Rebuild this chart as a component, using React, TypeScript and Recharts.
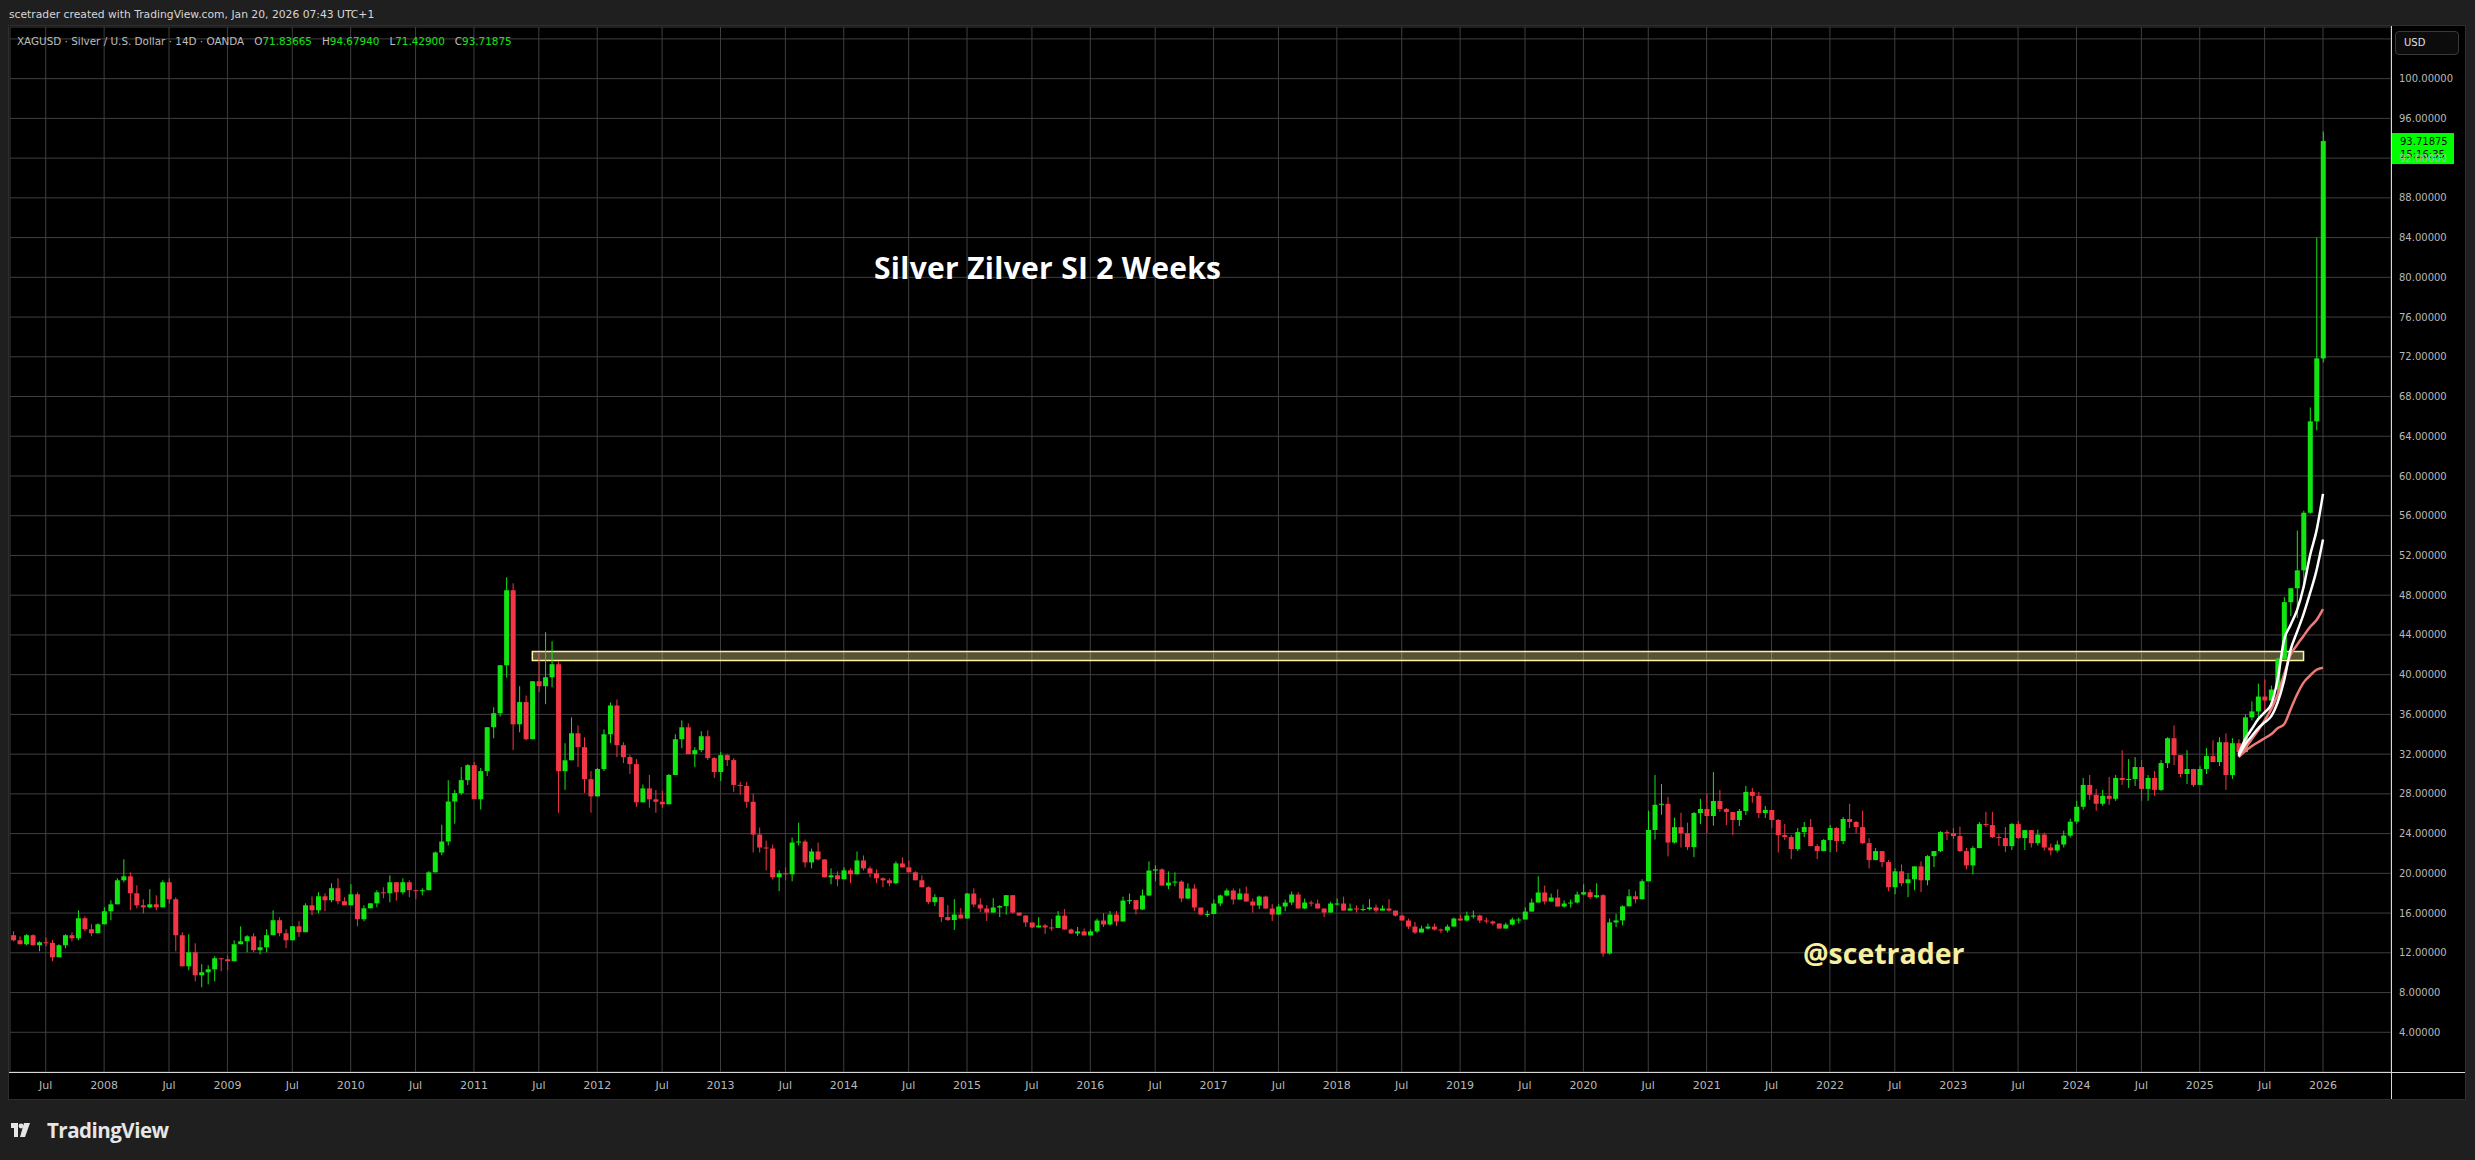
import { ComposedChart, Bar, Line, XAxis, YAxis, CartesianGrid, ReferenceArea, ReferenceLine } from "recharts";

// 14D candles, XAGUSD (OANDA)
const firstOpen = 13.77;

const closes = [
  13.26, 12.86, 13.77, 12.76, 13.06, 13.0, 11.55, 12.76, 13.77, 13.46,
  15.48, 14.37, 13.97, 14.87, 16.18, 16.88, 19.3, 19.7, 17.99, 16.78,
  16.58, 16.88, 16.58, 19.1, 17.39, 13.77, 10.64, 12.05, 9.74, 10.04,
  10.34, 11.45, 11.35, 11.15, 12.86, 13.16, 13.66, 12.26, 12.56, 13.77,
  15.28, 13.97, 13.26, 14.67, 14.07, 16.78, 16.28, 17.69, 17.29, 18.5,
  17.19, 16.78, 17.89, 15.38, 16.48, 16.98, 18.09, 17.99, 19.1, 18.09,
  19.1, 18.3, 18.2, 18.3, 20.1, 22.1, 23.2, 27.23, 28.07, 29.38,
  30.89, 27.46, 30.29, 34.71, 36.12, 40.95, 48.5, 35.0, 37.24, 33.5,
  39.34, 38.84, 39.74, 41.05, 30.28, 31.38, 34.1, 32.7, 29.48, 27.75,
  30.5, 34.0, 36.9, 32.9, 31.7, 30.99, 27.15, 28.55, 27.45, 27.2,
  26.95, 29.9, 33.5, 34.7, 32.0, 32.4, 33.8, 31.6, 30.2, 31.9,
  31.4, 28.9, 28.8, 27.2, 23.9, 22.6, 22.5, 19.6, 20.0, 19.9,
  23.1, 23.2, 21.1, 22.2, 21.4, 19.6, 19.8, 19.4, 20.3, 19.9,
  21.3, 20.5, 20.0, 19.5, 19.3, 19.0, 21.0, 20.6, 20.1, 19.3,
  18.6, 17.1, 17.6, 15.6, 15.3, 15.85, 15.45, 17.97, 16.86, 16.46,
  16.05, 16.56, 16.7, 17.8, 16.05, 15.75, 15.05, 14.55, 14.75, 14.55,
  14.5, 15.75, 14.35, 13.95, 14.15, 13.75, 14.15, 15.25, 14.85, 15.85,
  15.15, 17.26, 17.3, 16.36, 17.77, 20.28, 20.4, 18.77, 19.07, 19.17,
  17.46, 18.47, 16.56, 15.85, 15.9, 16.96, 17.77, 18.27, 17.36, 17.97,
  17.16, 16.76, 17.66, 16.46, 15.85, 16.66, 17.06, 17.87, 16.46, 17.06,
  16.96, 16.46, 16.05, 16.96, 16.96, 16.25, 16.46, 16.36, 16.4, 16.56,
  16.25, 16.46, 16.25, 15.75, 15.25, 14.64, 14.04, 14.44, 14.64, 14.34,
  14.24, 14.64, 15.45, 15.25, 15.75, 15.75, 15.25, 15.15, 14.95, 14.44,
  14.84, 15.35, 15.35, 16.15, 17.06, 18.07, 17.16, 17.56, 16.66, 16.96,
  17.06, 17.87, 18.1, 17.6, 17.8, 11.93, 15.06, 15.26, 16.68, 17.69,
  17.39, 19.2, 24.36, 26.9, 27.0, 23.1, 24.65, 24.05, 22.64, 26.07,
  26.48, 25.77, 27.28, 26.48, 26.17, 25.37, 26.28, 28.2, 27.8, 26.07,
  26.38, 25.37, 23.85, 23.65, 22.44, 24.15, 24.66, 22.74, 22.24, 23.35,
  24.56, 23.25, 25.47, 25.17, 24.66, 23.04, 21.33, 22.24, 21.13, 18.6,
  20.2, 19.0, 19.4, 20.7, 19.3, 21.73, 22.24, 24.15, 24.05, 23.75,
  22.24, 20.8, 22.54, 24.96, 24.86, 23.65, 23.55, 22.74, 24.96, 23.55,
  24.35, 23.04, 23.9, 22.6, 22.3, 22.9, 23.8, 25.2, 26.7, 28.9,
  27.9, 27.0, 27.8, 27.5, 29.6, 29.4, 29.5, 30.7, 28.5, 29.6,
  28.4, 31.1, 33.6, 31.9, 30.0, 30.5, 28.9, 30.5, 31.8, 31.2,
  33.2, 29.9, 33.1, 32.2, 35.7, 36.3, 37.8, 37.4, 38.5, 41.6,
  47.3, 48.7, 50.5, 56.3, 65.5, 71.84, 93.72,
];

const highs = [
  14.17, 13.66, 13.87, 13.87, 13.16, 13.53, 13.3, 12.86, 13.87, 14.07,
  16.28, 15.68, 14.87, 14.97, 16.58, 17.29, 19.5, 21.42, 20.11, 18.8,
  17.39, 18.4, 17.79, 19.3, 19.5, 17.59, 14.07, 13.87, 12.96, 10.85,
  10.75, 11.65, 11.45, 11.75, 13.26, 14.67, 13.77, 13.97, 13.26, 14.37,
  16.28, 15.58, 14.37, 14.67, 15.18, 16.98, 17.69, 18.09, 17.99, 19.0,
  19.5, 17.59, 18.9, 18.09, 16.78, 16.98, 18.3, 18.6, 19.8, 19.1,
  19.5, 19.3, 18.3, 18.5, 20.21, 22.2, 24.9, 29.37, 28.4, 30.7,
  30.99, 31.2, 30.6, 34.71, 36.72, 40.95, 49.8, 49.2, 38.84, 37.9,
  39.34, 42.26, 44.28, 43.37, 41.35, 33.1, 35.7, 34.9, 33.7, 30.3,
  30.6, 34.5, 37.2, 37.5, 33.2, 31.9, 31.5, 28.95, 29.9, 28.4,
  28.3, 30.0, 34.0, 35.4, 35.1, 32.7, 34.3, 34.4, 31.7, 32.2,
  32.0, 31.6, 29.2, 29.2, 28.0, 24.6, 23.3, 22.9, 20.3, 20.6,
  23.6, 25.1, 23.4, 22.5, 23.1, 21.4, 20.5, 20.2, 20.6, 20.5,
  22.2, 21.8, 20.7, 20.4, 19.6, 19.5, 21.2, 21.6, 21.3, 20.2,
  19.8, 18.7, 17.9, 17.6, 16.8, 17.4, 16.5, 18.0, 18.5, 17.5,
  16.8, 17.5, 16.8, 17.8, 17.8, 16.05, 15.8, 15.05, 15.6, 14.9,
  15.4, 16.2, 16.4, 14.45, 14.6, 14.45, 14.35, 15.45, 16.0, 16.2,
  16.2, 17.66, 17.97, 17.3, 18.37, 21.2, 20.8, 20.5, 20.2, 20.1,
  19.3, 19.0, 18.9, 16.5, 16.25, 17.36, 17.87, 18.47, 18.47, 18.47,
  18.67, 17.46, 17.76, 17.76, 16.9, 16.9, 17.36, 18.17, 18.1, 17.46,
  17.26, 17.36, 16.46, 17.16, 17.46, 17.66, 16.96, 16.76, 16.86, 17.4,
  16.86, 16.76, 17.4, 16.25, 15.85, 15.45, 15.1, 14.74, 14.94, 14.94,
  14.44, 14.84, 15.55, 15.85, 16.15, 16.25, 15.85, 15.55, 15.25, 14.95,
  15.04, 15.55, 15.55, 16.56, 17.46, 19.7, 18.77, 17.96, 18.4, 17.26,
  17.36, 18.17, 18.9, 18.4, 19.0, 17.9, 15.46, 15.9, 16.78, 18.4,
  18.19, 19.4, 26.3, 29.9, 29.0, 27.7, 25.6, 26.1, 25.1, 26.17,
  27.5, 28.0, 30.2, 28.4, 26.58, 26.17, 26.48, 28.8, 28.6, 28.2,
  26.78, 26.38, 25.47, 24.96, 23.85, 24.56, 25.17, 25.47, 22.94, 23.45,
  24.86, 24.66, 25.67, 27.0, 25.27, 26.3, 23.54, 22.54, 22.24, 21.33,
  20.5, 20.9, 20.0, 20.7, 21.2, 21.83, 22.24, 24.25, 24.35, 24.56,
  24.7, 22.54, 22.74, 25.17, 26.2, 26.2, 23.95, 24.66, 25.07, 25.27,
  24.35, 24.35, 24.4, 24.1, 23.0, 23.3, 24.3, 25.5, 27.3, 29.6,
  29.9, 28.5, 28.4, 29.7, 29.9, 32.4, 31.5, 31.7, 31.4, 29.9,
  30.3, 31.4, 33.7, 34.9, 31.9, 32.4, 30.5, 30.8, 32.6, 33.4,
  33.7, 34.1, 33.6, 33.5, 36.0, 37.3, 39.1, 39.5, 38.9, 41.7,
  47.8, 48.7, 54.5, 56.5, 66.9, 84.0, 94.68,
];

const lows = [
  13.16, 12.86, 12.76, 12.76, 12.15, 12.66, 11.15, 11.55, 12.46, 13.16,
  13.26, 14.17, 13.66, 13.97, 14.87, 15.28, 16.88, 19.1, 16.28, 16.48,
  15.98, 16.48, 16.28, 16.58, 16.95, 12.15, 10.64, 10.24, 9.13, 8.53,
  8.83, 9.13, 10.14, 10.24, 11.15, 12.86, 12.05, 12.05, 11.85, 12.05,
  13.77, 13.66, 12.46, 13.26, 13.6, 14.07, 15.78, 15.98, 16.18, 17.09,
  16.88, 16.78, 16.78, 14.67, 15.18, 16.48, 16.58, 17.49, 17.09, 17.26,
  17.89, 17.59, 17.39, 17.79, 18.3, 20.1, 21.82, 22.8, 25.0, 27.9,
  28.9, 27.46, 26.42, 29.8, 33.6, 35.8, 39.7, 32.4, 34.2, 33.4,
  33.5, 38.24, 37.03, 38.74, 26.1, 28.4, 31.38, 30.7, 28.1, 26.1,
  27.75, 30.3, 33.1, 31.7, 31.1, 30.0, 26.7, 27.15, 26.6, 26.1,
  26.6, 26.95, 29.9, 32.6, 32.0, 30.7, 32.2, 31.4, 29.6, 29.3,
  30.8, 28.2, 27.9, 26.6, 22.1, 22.1, 20.3, 19.4, 18.2, 19.3,
  19.2, 22.8, 20.6, 20.5, 21.3, 19.6, 18.9, 18.7, 19.4, 19.0,
  19.9, 20.3, 19.6, 19.0, 18.6, 18.7, 18.9, 20.6, 20.1, 19.3,
  18.6, 16.9, 16.7, 15.1, 15.2, 14.3, 15.45, 15.45, 16.6, 16.1,
  15.2, 16.05, 15.6, 15.85, 15.95, 15.75, 14.6, 14.5, 14.55, 13.9,
  14.2, 14.5, 14.35, 13.9, 13.7, 13.75, 13.75, 14.0, 14.6, 14.75,
  14.7, 15.15, 16.9, 15.85, 16.3, 17.7, 19.2, 18.77, 18.4, 18.7,
  17.1, 17.4, 16.2, 15.85, 15.6, 15.9, 16.7, 17.7, 16.86, 17.36,
  17.16, 16.05, 16.4, 16.4, 15.2, 15.85, 16.2, 16.8, 16.46, 16.4,
  16.66, 16.46, 15.6, 16.05, 16.76, 16.25, 16.25, 16.05, 16.2, 16.26,
  16.05, 16.25, 16.15, 15.65, 15.25, 14.4, 13.9, 14.04, 14.34, 14.24,
  14.0, 14.04, 14.64, 15.25, 15.15, 15.45, 15.0, 14.95, 14.75, 14.44,
  14.44, 14.74, 14.95, 15.35, 16.15, 17.06, 16.86, 17.16, 16.66, 16.56,
  16.56, 16.96, 17.8, 17.4, 17.5, 11.6, 11.83, 14.6, 14.76, 16.68,
  16.98, 17.39, 19.2, 23.4, 25.9, 21.7, 23.0, 22.6, 22.34, 21.63,
  24.96, 24.05, 24.8, 26.2, 24.86, 23.85, 24.76, 25.87, 27.1, 25.57,
  25.57, 24.56, 22.1, 23.35, 21.43, 22.24, 23.65, 22.74, 21.43, 22.24,
  22.14, 22.14, 22.94, 24.56, 24.05, 22.94, 20.5, 21.33, 20.63, 18.2,
  17.9, 18.7, 17.6, 18.3, 18.1, 18.8, 20.63, 22.14, 23.35, 23.45,
  22.14, 20.4, 19.9, 22.54, 24.66, 23.55, 22.74, 22.14, 22.34, 23.45,
  22.34, 22.6, 22.8, 22.3, 21.8, 22.1, 22.6, 23.6, 25.0, 26.4,
  27.4, 26.3, 26.8, 26.9, 27.3, 28.9, 28.6, 28.8, 27.3, 27.3,
  27.8, 28.3, 30.6, 30.9, 29.7, 29.0, 28.7, 28.9, 30.0, 31.2,
  30.8, 28.4, 29.5, 31.8, 32.2, 35.4, 35.4, 36.1, 37.2, 38.2,
  41.6, 45.9, 45.7, 48.7, 56.2, 64.6, 71.43,
];

// moving averages drawn on the last bars (from bar 343)
const maStart = 343;
const whiteFast = [32.0, 33.5, 34.5, 35.5, 36.2, 37.0, 39.5, 43.5, 45.0, 46.5, 48.8, 52.0, 54.5, 58.2];
const whiteSlow = [31.8, 33.0, 33.8, 34.6, 35.2, 35.8, 37.2, 39.4, 42.5, 44.3, 46.1, 48.2, 50.5, 53.6];
const redFast = [31.8, 32.6, 33.5, 34.4, 35.4, 36.5, 38.0, 40.0, 42.0, 43.0, 43.9, 44.8, 45.5, 46.6];
const redSlow = [31.7, 32.3, 32.8, 33.2, 33.6, 34.0, 34.6, 35.0, 36.5, 38.0, 39.2, 39.9, 40.5, 40.7];

// resistance zone
const zoneFrom = 80;
const zoneTo = 353;
const zoneLow = 41.43;
const zoneHigh = 42.34;

const timeTicks = [5, 14, 24, 33, 43, 52, 62, 71, 81, 90, 100, 109, 119, 128, 138, 147, 157, 166, 176, 185, 195, 204, 214, 223, 233, 242, 252, 261, 271, 280, 290, 299, 309, 318, 328, 337, 347, 356];
const timeLabels = ["Jul", "2008", "Jul", "2009", "Jul", "2010", "Jul", "2011", "Jul", "2012", "Jul", "2013", "Jul", "2014", "Jul", "2015", "Jul", "2016", "Jul", "2017", "Jul", "2018", "Jul", "2019", "Jul", "2020", "Jul", "2021", "Jul", "2022", "Jul", "2023", "Jul", "2024", "Jul", "2025", "Jul", "2026"];
const priceTicks = [4, 8, 12, 16, 20, 24, 28, 32, 36, 40, 44, 48, 52, 56, 60, 64, 68, 72, 76, 80, 84, 88, 92, 96, 100, 104];

const lastBar = { o: "71.83665", h: "94.67940", l: "71.42900", c: "93.71875", close: 93.71875, timer: "15:16:35" };

const GREEN = "#12e612";
const RED = "#f23645";
const BG = "#1f1f1f";
const GRID = "#3f3f3f";
const AXIS_TEXT = "#b8b8b8";
const FONT = "'DejaVu Sans', sans-serif";

const data = closes.map((c, i) => {
  const k = i - maStart;
  return {
    i,
    o: i === 0 ? firstOpen : closes[i - 1],
    c,
    h: highs[i],
    l: lows[i],
    range: [lows[i], highs[i]],
    w1: k >= 0 ? whiteFast[k] : null,
    w2: k >= 0 ? whiteSlow[k] : null,
    r1: k >= 0 ? redFast[k] : null,
    r2: k >= 0 ? redSlow[k] : null,
  };
});

function Candle(props: any) {
  const { x, y, width, height, payload } = props;
  if (!payload || x == null) return null;
  const { o, c, h, l } = payload;
  const color = c >= o ? GREEN : RED;
  const cx = x + width / 2;
  const k = h > l ? height / (h - l) : 0;
  const top = y + (h - Math.max(o, c)) * k;
  const bot = y + (h - Math.min(o, c)) * k;
  const bh = Math.max(1, bot - top);
  return (
    <g>
      <rect x={cx - 0.5} y={y} width={1} height={Math.max(1, height)} fill={color} />
      <rect x={cx - 2.5} y={top} width={5} height={bh} fill={color} />
    </g>
  );
}

function PriceTag(props: any) {
  const vb = props.viewBox;
  if (!vb) return null;
  const x = vb.x + vb.width + 1;
  const y = vb.y;
  return (
    <g>
      <rect x={x} y={y - 8} width={62} height={31} fill="#00ff00" />
      <text x={x + 8} y={y + 4} fontSize={10} fontFamily={FONT} fill="#0b0b0b">{lastBar.c}</text>
      <text x={x + 8} y={y + 17} fontSize={10} fontFamily={FONT} fill="#0b0b0b">{lastBar.timer}</text>
    </g>
  );
}

function TvLogo() {
  return (
    <svg width={20} height={16} viewBox="0 0 20 16" style={{ position: "absolute", left: 11, top: 1123 }}>
      <rect x={0} y={0} width={7} height={5} fill="#e6e6e6" />
      <rect x={3} y={0} width={4} height={14} fill="#e6e6e6" />
      <circle cx={10} cy={3} r={2.4} fill="#e6e6e6" />
      <polygon points="13,0 19,0 14,14 9,14" fill="#e6e6e6" />
    </svg>
  );
}

export default function App() {
  const label = (v: number) => {
    const idx = timeTicks.indexOf(v);
    return idx >= 0 ? timeLabels[idx] : "";
  };
  return (
    <div style={{ position: "fixed", left: 0, top: 0, width: 2475, height: 1160, background: BG, overflow: "hidden", fontFamily: FONT }}>
      <div style={{ position: "absolute", left: 9, top: 8, fontSize: 10.75, color: "#d6d6d6", whiteSpace: "nowrap" }}>
        scetrader created with TradingView.com, Jan 20, 2026 07:43 UTC+1
      </div>
      <div style={{ position: "absolute", left: 8, top: 25, width: 2458, height: 1075, background: "#000", border: "1px solid #2e2e2e", boxSizing: "border-box" }} />
      <ComposedChart
        width={2475}
        height={1160}
        data={data}
        margin={{ top: 27, right: 10, bottom: 61, left: 10 }}
        style={{ position: "absolute", left: 0, top: 0 }}
      >
        <CartesianGrid stroke={GRID} strokeWidth={1} />
        <XAxis
          dataKey="i"
          type="number"
          domain={[-0.51, 366.48]}
          ticks={timeTicks}
          tickFormatter={label}
          interval={0}
          height={27}
          axisLine={false}
          tickLine={false}
          tickSize={0}
          tickMargin={9}
          tick={{ fontSize: 11, fill: AXIS_TEXT, fontFamily: FONT }}
          allowDataOverflow
        />
        <YAxis
          orientation="right"
          type="number"
          domain={[0, 105.2]}
          ticks={priceTicks}
          tickFormatter={(v: number) => (v === 104 ? "" : v.toFixed(5))}
          interval={0}
          width={74}
          axisLine={false}
          tickLine={false}
          tickSize={0}
          tickMargin={8}
          tick={{ fontSize: 10, fill: AXIS_TEXT, fontFamily: FONT, textAnchor: "start" }}
          allowDataOverflow
        />
        <Bar dataKey="range" barSize={5} shape={<Candle />} isAnimationActive={false} />
        <Line dataKey="r2" type="monotone" stroke="#f07a78" strokeWidth={2.5} dot={false} isAnimationActive={false} />
        <Line dataKey="r1" type="monotone" stroke="#f07a78" strokeWidth={2.5} dot={false} isAnimationActive={false} />
        <Line dataKey="w2" type="monotone" stroke="#ffffff" strokeWidth={2.5} dot={false} isAnimationActive={false} />
        <Line dataKey="w1" type="monotone" stroke="#ffffff" strokeWidth={2.5} dot={false} isAnimationActive={false} />
        <ReferenceArea
          x1={zoneFrom}
          x2={zoneTo}
          y1={zoneLow}
          y2={zoneHigh}
          fill="#fff59d"
          fillOpacity={0.34}
          stroke="#fff3a6"
          strokeWidth={1.5}
        />
        <ReferenceLine y={lastBar.close} stroke="none" label={(p: any) => <PriceTag {...p} />} />
      </ComposedChart>
      {/* axis separators */}
      <div style={{ position: "absolute", left: 2391, top: 26, width: 1, height: 1073, background: "#d8d8d8" }} />
      <div style={{ position: "absolute", left: 9, top: 1072, width: 2456, height: 1, background: "#d8d8d8" }} />
      <div style={{ position: "absolute", left: 2395, top: 31, width: 64, height: 24, boxSizing: "border-box", border: "1px solid #3a3a3a", borderRadius: 4, background: "#0c0c0c", color: "#e0e0e0", fontSize: 10, lineHeight: "22px", paddingLeft: 8 }}>
        USD
      </div>
      <div style={{ position: "absolute", left: 17, top: 35, fontSize: 10.4, color: "#bdbdbd", whiteSpace: "nowrap" }}>
        XAGUSD · Silver / U.S. Dollar · 14D · OANDA
        <span style={{ marginLeft: 10 }}>O</span><span style={{ color: GREEN }}>{lastBar.o}</span>
        <span style={{ marginLeft: 10 }}>H</span><span style={{ color: GREEN }}>{lastBar.h}</span>
        <span style={{ marginLeft: 10 }}>L</span><span style={{ color: GREEN }}>{lastBar.l}</span>
        <span style={{ marginLeft: 10 }}>C</span><span style={{ color: GREEN }}>{lastBar.c}</span>
      </div>
      <div style={{ position: "absolute", left: 874, top: 247, fontFamily: "'Open Sans', sans-serif", fontWeight: 700, fontSize: 30, color: "#ffffff", whiteSpace: "nowrap", letterSpacing: 0.3 }}>
        Silver Zilver SI 2 Weeks
      </div>
      <div style={{ position: "absolute", left: 1803, top: 934, fontFamily: "'Open Sans', sans-serif", fontWeight: 700, fontSize: 28.5, color: "#f7eea0", whiteSpace: "nowrap" }}>
        @scetrader
      </div>
      <TvLogo />
      <div style={{ position: "absolute", left: 47, top: 1116, fontFamily: "'Open Sans', sans-serif", fontWeight: 700, fontSize: 20.5, color: "#e6e6e6", letterSpacing: -0.5 }}>
        TradingView
      </div>
    </div>
  );
}
